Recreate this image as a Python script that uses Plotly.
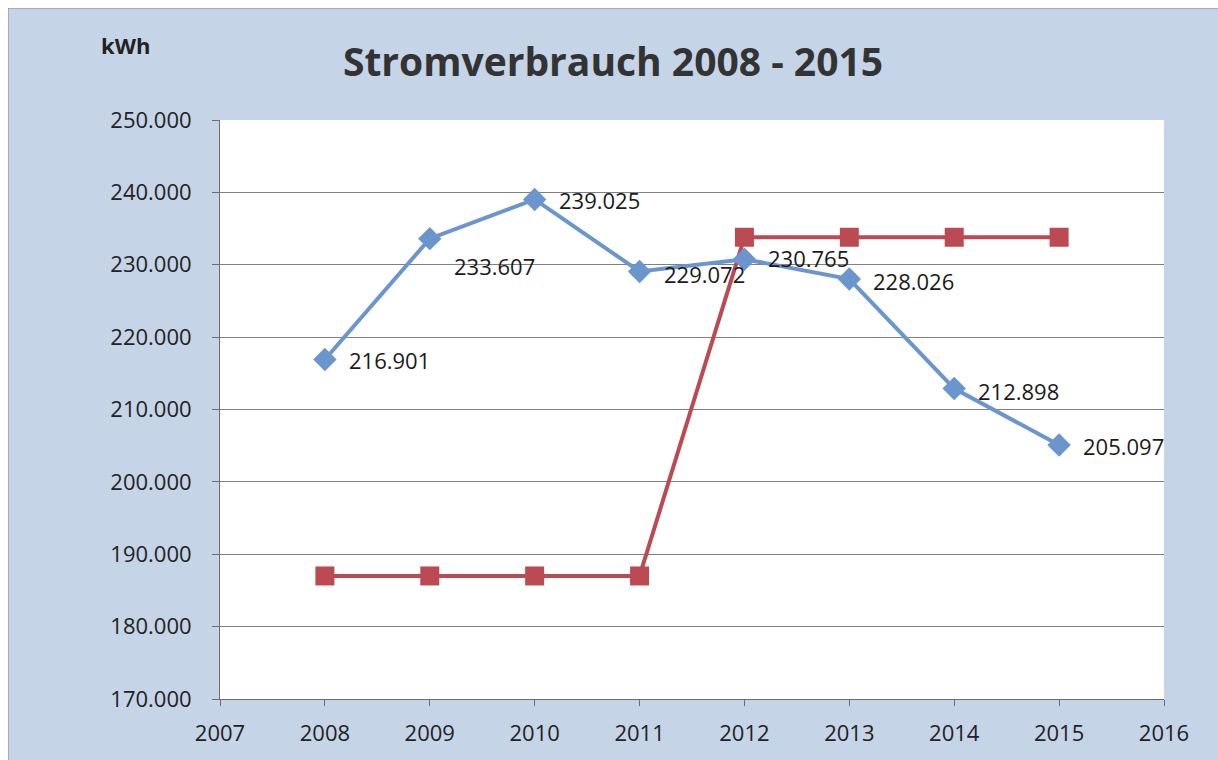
import plotly.graph_objects as go

years = [2008, 2009, 2010, 2011, 2012, 2013, 2014, 2015]
verbrauch = [216901, 233607, 239025, 229072, 230765, 228026, 212898, 205097]
referenz = [187000, 187000, 187000, 187000, 233800, 233800, 233800, 233800]
label_dy = [0, -27, -1, -3, 1, -2, -2, -1]

fig = go.Figure()
fig.add_trace(go.Scatter(
    x=years, y=referenz, mode="lines+markers",
    line=dict(color="#bc4a52", width=4),
    marker=dict(symbol="square", size=19, color="#bc4a52"),
    hoverinfo="skip", showlegend=False,
))
fig.add_trace(go.Scatter(
    x=years, y=verbrauch, mode="lines+markers",
    line=dict(color="#6b96cd", width=4),
    marker=dict(symbol="diamond", size=18, color="#6b96cd"),
    showlegend=False,
))

# page body has an 8px margin; layout is offset accordingly
OFF = 8
L, R, T, B = 220 - OFF, 54, 120 - OFF, 61
W, H = 1218 - OFF, 760 - OFF
pw, ph = W - L - R, H - T - B

def px(x): return (x - OFF - L) / pw
def py(y): return (H + OFF - B - y) / ph

annotations = [dict(text=f"{v:,}".replace(",", "."), x=yr, y=v, xref="x", yref="y",
                    xanchor="left", yanchor="middle", xshift=22, yshift=dy,
                    showarrow=False, font=dict(size=22, color="#1a1a1a"))
               for yr, v, dy in zip(years, verbrauch, label_dy)]
annotations.append(dict(text="<b>kWh</b>", xref="paper", yref="paper",
                        x=px(125), y=py(45), xanchor="center", yanchor="middle",
                        showarrow=False, font=dict(size=22, color="#222222")))

fig.update_layout(
    width=W, height=H,
    margin=dict(l=L, r=R, t=T, b=B),
    paper_bgcolor="#c6d4e8",
    plot_bgcolor="#ffffff",
    separators=",.",
    font=dict(family="Open Sans", size=22, color="#222222"),
    title=dict(text="<b>Stromverbrauch 2008 - 2015</b>", x=0.5, xanchor="center",
               y=1 - (62 - OFF) / H, yanchor="middle",
               font=dict(size=39, color="#333333", family="Open Sans")),
    xaxis=dict(range=[2007, 2016], dtick=1, tick0=2007, showgrid=False,
               showline=True, linecolor="#6e6e6e", linewidth=1,
               ticks="outside", ticklen=6, tickcolor="#6e6e6e",
               ticklabelstandoff=9,
               tickfont=dict(size=22, color="#222222"), zeroline=False),
    yaxis=dict(range=[170000, 250000], dtick=10000, tickformat=",.0f",
               showgrid=True, gridcolor="#808080", gridwidth=1,
               showline=True, linecolor="#6e6e6e", linewidth=1,
               ticks="outside", ticklen=7, tickcolor="#6e6e6e",
               ticklabelstandoff=16,
               tickfont=dict(size=22, color="#222222"), zeroline=False),
    annotations=annotations,
    shapes=[dict(type="rect", xref="paper", yref="paper",
                 x0=px(8), x1=px(1240), y0=py(770), y1=py(8),
                 line=dict(color="#808890", width=1), fillcolor="rgba(0,0,0,0)",
                 layer="below")],
)

fig.write_html(
    "out.html",
    post_script="document.documentElement.style.overflow='hidden';"
                "document.body.style.overflow='hidden';"
                "document.body.style.margin='8px 0 0 8px';",
)
